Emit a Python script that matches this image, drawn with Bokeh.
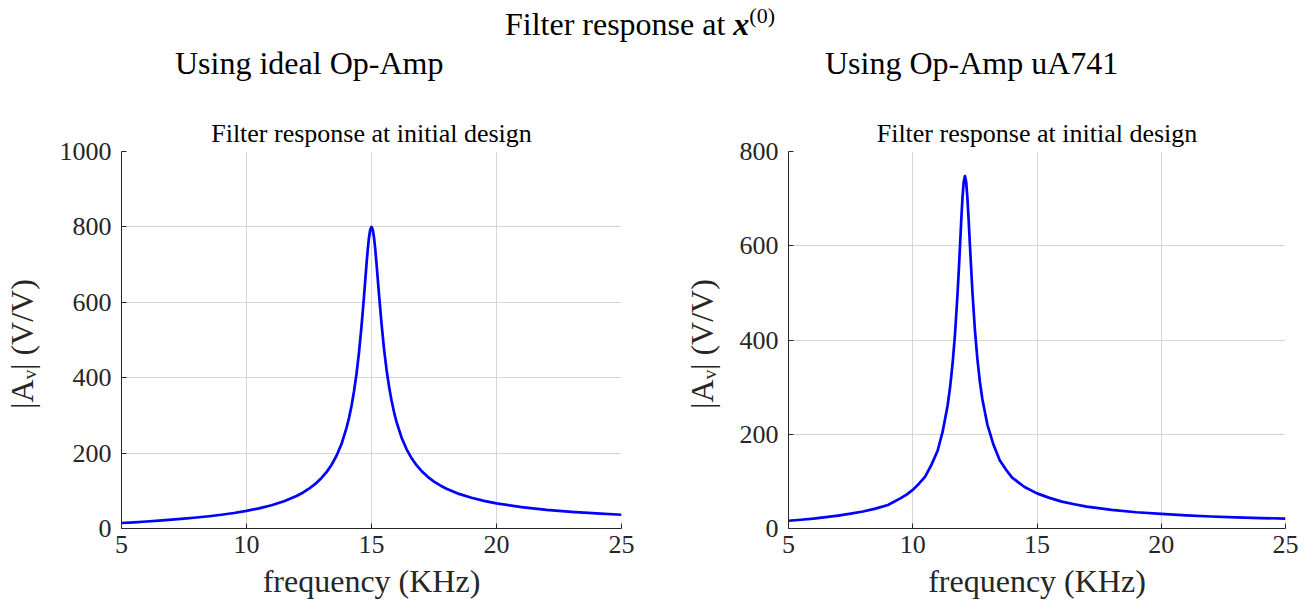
from bokeh.plotting import figure
from bokeh.models import Range1d, FixedTicker, Div
from bokeh.layouts import column, row
from bokeh.embed import file_html
from bokeh.resources import INLINE

# ---------------- data ----------------
main_title = "Filter response at"
main_title_var = "x"
main_title_sup = "(0)"
sub_titles = ["Using ideal Op-Amp", "Using Op-Amp uA741"]
axes_title = "Filter response at initial design"
x_label = "frequency (KHz)"
y_label = "|Aᵥ|  (V/V)"
x_ticks = [5, 10, 15, 20, 25]
y_ticks_ideal = [0, 200, 400, 600, 800, 1000]
y_ticks_ua741 = [0, 200, 400, 600, 800]

freq_ideal = [5, 5.5, 6, 6.5, 7, 7.5, 8, 8.5, 9, 9.5,
              10, 10.5, 11, 11.5, 12, 12.25, 12.5, 12.75, 13, 13.2,
              13.4, 13.6, 13.8, 14, 14.1, 14.2, 14.3, 14.4, 14.5, 14.6,
              14.7, 14.8, 14.85, 14.9, 14.95, 15, 15.05, 15.1, 15.15, 15.2,
              15.3, 15.4, 15.5, 15.6, 15.7, 15.8, 15.9, 16, 16.2, 16.4,
              16.6, 16.8, 17, 17.25, 17.5, 17.75, 18, 18.5, 19, 19.5,
              20, 21, 22, 23, 24, 25]
gain_ideal = [14.6, 16.5, 18.6, 20.8, 23.3, 26.0, 29.1, 32.5, 36.5, 41.2,
              46.8, 53.4, 61.7, 72.3, 86.2, 95.0, 105.5, 118.2, 134, 149.5,
              168.7, 193, 224, 267, 293, 325, 364, 410, 467, 536,
              616, 701, 740, 772, 793, 800, 793, 772, 741, 703,
              621, 544, 477, 422, 377, 340, 309, 283, 241.5, 210.7,
              186.9, 168.0, 152.6, 137.1, 124.5, 114.2, 105.5, 91.8, 81.4, 73.2,
              66.7, 56.8, 49.6, 44.2, 40.0, 36.5]

freq_ua741 = [5, 5.5, 6, 6.5, 7, 7.5, 8, 8.5, 9, 9.5,
              9.75, 10, 10.25, 10.5, 10.75, 11, 11.2, 11.4, 11.5, 11.6,
              11.7, 11.8, 11.85, 11.9, 11.95, 12, 12.05, 12.1, 12.15, 12.2,
              12.25, 12.3, 12.4, 12.5, 12.6, 12.7, 12.8, 13, 13.25, 13.5,
              13.75, 14, 14.25, 14.5, 15, 15.5, 16, 16.5, 17, 18,
              19, 20, 21, 22, 23, 24, 25]
gain_ua741 = [16.5, 18.6, 21.0, 24.1, 27.5, 31.4, 36.0, 42.2, 50.0, 64.0,
              72.0, 82.0, 95.0, 110.0, 135.0, 165.0, 205, 260, 299, 348,
              412, 496, 545, 598, 652, 701, 735, 748, 735, 701,
              654, 602, 503, 422, 360, 312, 274.7, 221, 177.6, 145,
              125, 108, 98, 88, 74.5, 65, 57.0, 51.5, 46.5, 39.5,
              34.5, 31.0, 28.0, 25.5, 23.7, 22.2, 21.0]

FONT = "Liberation Serif"
AX = "#262626"
GRID = "#d6d6d6"


def make_fig(freq, gain, yticks, ymax, left, fw, right):
    p = figure(frame_width=fw, frame_height=377,
               min_border_left=left, min_border_right=right,
               min_border_top=43, min_border_bottom=80,
               x_range=Range1d(5, 25), y_range=Range1d(0, ymax),
               toolbar_location=None, output_backend="svg", title=axes_title)
    p.title.text_font = FONT
    p.title.text_font_size = "26px"
    p.title.text_font_style = "normal"
    p.title.text_color = "black"
    p.title.align = "center"
    p.title.standoff = 7
    p.outline_line_color = None
    p.background_fill_color = "white"
    p.border_fill_color = "white"

    p.line(freq, gain, line_color="#0000ff", line_width=2.7, line_join="round")

    p.xaxis.ticker = FixedTicker(ticks=x_ticks)
    p.yaxis.ticker = FixedTicker(ticks=yticks)
    p.xaxis.axis_label = x_label
    p.yaxis.axis_label = y_label
    for ax in (p.xaxis[0], p.yaxis[0]):
        ax.axis_line_color = AX
        ax.axis_line_width = 1
        ax.major_tick_line_color = AX
        ax.major_tick_in = 5
        ax.major_tick_out = 0
        ax.minor_tick_line_color = None
        ax.major_label_text_font = FONT
        ax.major_label_text_font_size = "26px"
        ax.major_label_text_color = AX
        ax.axis_label_text_font = FONT
        ax.axis_label_text_font_size = "32px"
        ax.axis_label_text_font_style = "normal"
        ax.axis_label_text_color = AX
    p.xaxis.major_label_standoff = 7
    p.xaxis.axis_label_standoff = 7
    p.yaxis.major_label_standoff = 10
    p.yaxis.axis_label_standoff = 17

    p.xgrid.grid_line_color = GRID
    p.ygrid.grid_line_color = GRID
    p.xgrid.grid_line_width = 1
    p.ygrid.grid_line_width = 1
    return p


p1 = make_fig(freq_ideal, gain_ideal, y_ticks_ideal, 1000, 115, 500, 33)
p2 = make_fig(freq_ua741, gain_ua741, y_ticks_ua741, 800, 134, 497, 17)

txt = "font-size:32px;line-height:32px;white-space:nowrap;position:absolute;"
html = (
    '<div style="position:relative;width:1296px;height:108px;'
    "font-family:'Liberation Serif',serif;color:#000;\">"
    f'<div style="{txt}left:8px;top:8px;width:1264px;text-align:center;">'
    f'{main_title} <b><i>{main_title_var}</i></b>'
    f'<span style="position:relative;top:-12px;font-size:22px;">{main_title_sup}</span></div>'
    f'<div style="{txt}left:175px;top:47px;">{sub_titles[0]}</div>'
    f'<div style="{txt}left:825px;top:47px;">{sub_titles[1]}</div>'
    '</div>'
)
head = Div(text=html, width=1296, height=108, margin=0)

layout = column(head, row(p1, p2, spacing=0), spacing=0)

open("out.html", "w").write(file_html(layout, INLINE))
